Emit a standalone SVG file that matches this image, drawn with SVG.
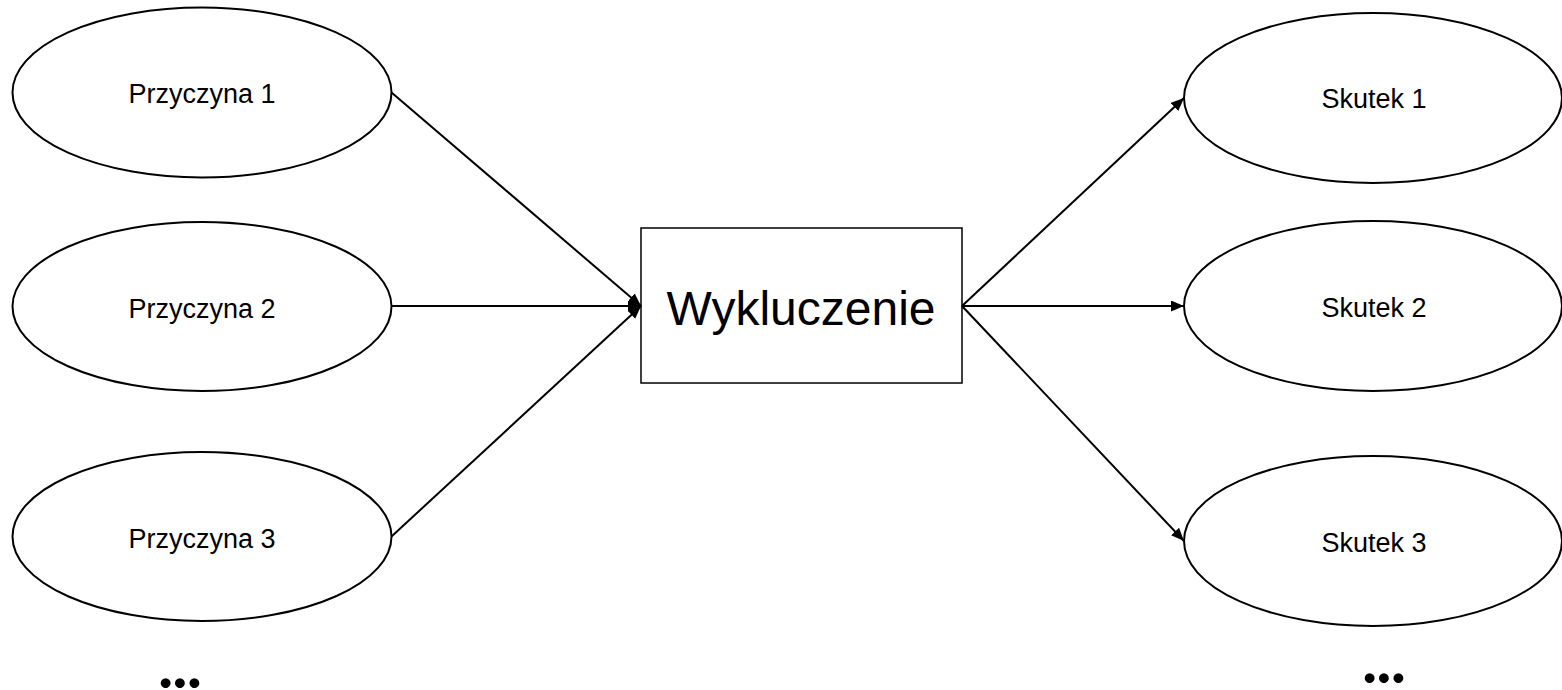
<svg xmlns="http://www.w3.org/2000/svg" width="1562" height="690" viewBox="0 0 1562 690">
<style>
.node ellipse{fill:#fff;stroke:#000;stroke-width:2}
.box{fill:#fff;stroke:#000;stroke-width:1.5}
.lbl{font-family:"Liberation Sans",Arial,sans-serif;font-size:27px;fill:#000;text-anchor:middle}
.big{font-family:"Liberation Sans",Arial,sans-serif;font-size:48px;fill:#000;text-anchor:middle}
.dots{font-family:Lato,"Liberation Sans",sans-serif;font-size:60px;font-weight:900;fill:#000;text-anchor:middle}
.conn line{stroke:#000;stroke-width:2;fill:none}
</style>
<defs>
<marker id="arr" markerUnits="userSpaceOnUse" markerWidth="14" markerHeight="12" refX="13" refY="5.5" orient="auto">
<path d="M0,0 L13,5.5 L0,11 z" fill="#000"/>
</marker>
</defs>
<rect width="1562" height="690" fill="#fff"/>
<g id="przyczyna1" class="node"><ellipse cx="202" cy="92.5" rx="189.5" ry="85"/><text class="lbl" x="202" y="103">Przyczyna 1</text></g>
<g id="przyczyna2" class="node"><ellipse cx="202" cy="306.5" rx="189.5" ry="84.5"/><text class="lbl" x="202" y="318">Przyczyna 2</text></g>
<g id="przyczyna3" class="node"><ellipse cx="202" cy="536.5" rx="189.5" ry="84.5"/><text class="lbl" x="202" y="548">Przyczyna 3</text></g>
<g id="wykluczenie"><rect class="box" x="641" y="228" width="321" height="155"/><text class="big" x="801" y="325">Wykluczenie</text></g>
<g id="skutek1" class="node"><ellipse cx="1373" cy="98" rx="189" ry="85"/><text class="lbl" x="1374" y="108">Skutek 1</text></g>
<g id="skutek2" class="node"><ellipse cx="1373" cy="306" rx="189" ry="85"/><text class="lbl" x="1374" y="317">Skutek 2</text></g>
<g id="skutek3" class="node"><ellipse cx="1373" cy="541" rx="189" ry="85"/><text class="lbl" x="1374" y="552">Skutek 3</text></g>
<g id="connectors" class="conn">
<line x1="391.5" y1="92.5" x2="641" y2="306" marker-end="url(#arr)"/>
<line x1="391.5" y1="306" x2="641" y2="306" marker-end="url(#arr)"/>
<line x1="391.5" y1="536.5" x2="641" y2="306" marker-end="url(#arr)"/>
<line x1="962" y1="306" x2="1184" y2="98" marker-end="url(#arr)"/>
<line x1="962" y1="306" x2="1184" y2="306" marker-end="url(#arr)"/>
<line x1="962" y1="306" x2="1184" y2="541" marker-end="url(#arr)"/>
</g>
<text class="dots" x="180" y="688">...</text>
<text class="dots" x="1384" y="683">...</text>
</svg>
